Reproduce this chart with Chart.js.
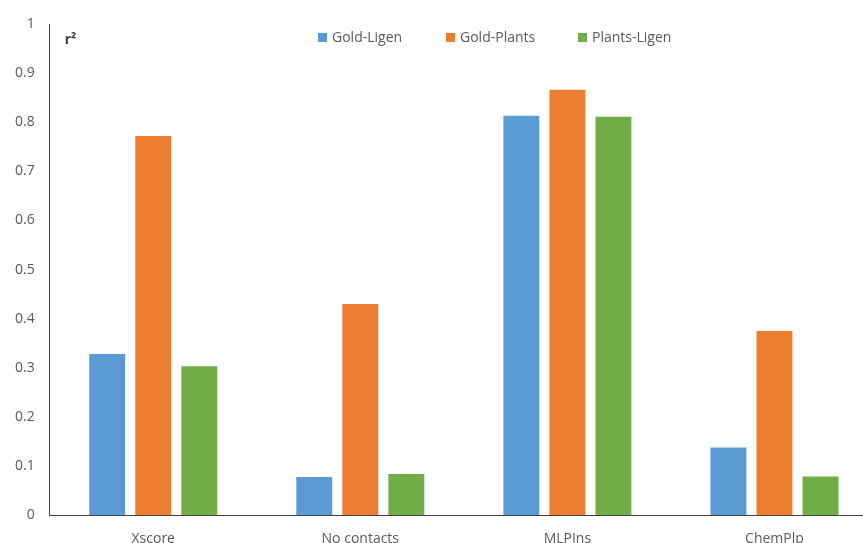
<!DOCTYPE html>
<html>
<head>
<meta charset="utf-8">
<script src="https://cdn.jsdelivr.net/npm/chart.js@4"></script>
<style>
  html, body { margin: 0; padding: 0; background: #fff; overflow: hidden; }
  #wrap { position: relative; width: 878px; height: 568px; }
</style>
</head>
<body>
<div id="wrap"><canvas id="chart"></canvas></div>
<script>
// Chart data
const categories = ['Xscore', 'No contacts', 'MLPIns', 'ChemPlp'];
const seriesNames = ['Gold-Ligen', 'Gold-Plants', 'Plants-Ligen'];
const goldLigen = [0.328, 0.078, 0.813, 0.138];
const goldPlants = [0.772, 0.430, 0.866, 0.375];
const plantsLigen = [0.303, 0.084, 0.811, 0.079];
const colors = ['#5B9BD5', '#ED7D31', '#70AD47'];
const axisLabel = 'r²';

const textColor = '#595959';
const fontFamily = '"Open Sans", "Noto Sans", sans-serif';

// Legend + axis title drawn over the plot area (like the original)
const overlayPlugin = {
    id: 'overlay',
    afterDraw(chart) {
        const ctx = chart.ctx;
        const area = chart.chartArea;
        ctx.save();

        // r² label
        ctx.fillStyle = '#404040';
        ctx.font = 'bold 14px ' + fontFamily;
        ctx.textBaseline = 'middle';
        ctx.textAlign = 'left';
        ctx.fillText(axisLabel, area.left + 15, 40);

        // legend
        const legendX = [318, 446, 578];
        ctx.font = '14px ' + fontFamily;
        chart.data.datasets.forEach(function(ds, i) {
            const x = legendX[i];
            ctx.fillStyle = ds.backgroundColor;
            ctx.fillRect(x, 33, 9, 9);
            ctx.fillStyle = textColor;
            ctx.fillText(ds.label, x + 14, 38);
        });
        ctx.restore();
    }
};

const ctx = document.getElementById('chart').getContext('2d');
new Chart(ctx, {
    type: 'bar',
    data: {
        labels: categories,
        datasets: [
            { label: seriesNames[0], data: goldLigen, backgroundColor: colors[0] },
            { label: seriesNames[1], data: goldPlants, backgroundColor: colors[1] },
            { label: seriesNames[2], data: plantsLigen, backgroundColor: colors[2] }
        ]
    },
    options: {
        responsive: true,
        maintainAspectRatio: false,
        animation: false,
        layout: { padding: { top: 24, right: 0, bottom: 6, left: 0 } },
        datasets: {
            bar: { categoryPercentage: 0.667, barPercentage: 0.78 }
        },
        plugins: {
            legend: { display: false },
            tooltip: { enabled: false }
        },
        scales: {
            x: {
                grid: { display: false, drawTicks: false },
                border: { display: true, color: '#404040', width: 1 },
                ticks: { color: textColor, font: { family: fontFamily, size: 14 }, padding: 15 }
            },
            y: {
                min: 0,
                max: 1,
                grid: { display: false, drawTicks: false },
                border: { display: true, color: '#404040', width: 1 },
                ticks: {
                    stepSize: 0.1,
                    color: textColor,
                    font: { family: fontFamily, size: 14 },
                    padding: 15,
                    callback: function(v) { return Math.round(v * 10) / 10; }
                }
            }
        }
    },
    plugins: [overlayPlugin]
});
</script>
</body>
</html>
